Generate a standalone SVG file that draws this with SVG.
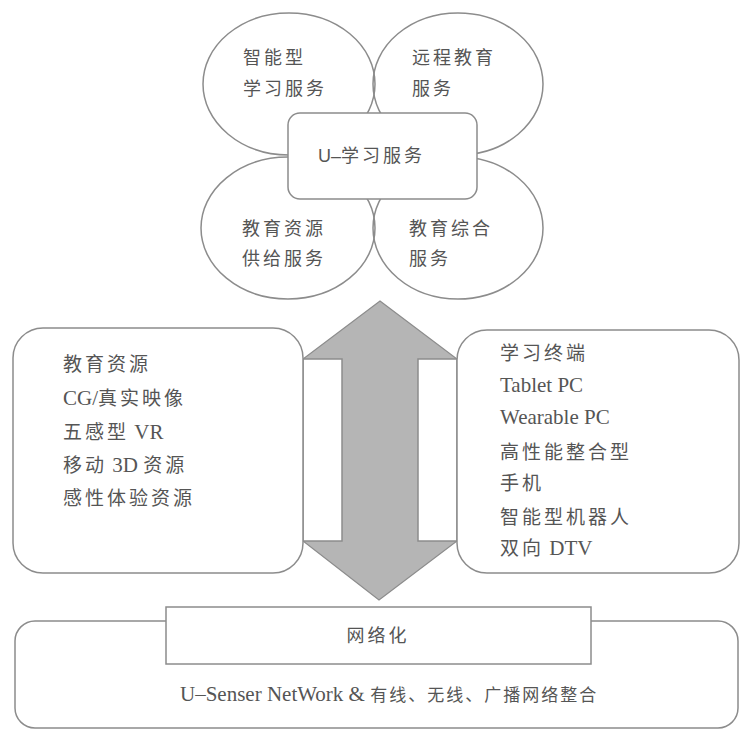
<svg xmlns="http://www.w3.org/2000/svg" width="741" height="731" viewBox="0 0 741 731">
<style>
.ln{fill:none;stroke:#8c8c8c;stroke-width:1.5}
.bx{fill:#fff;stroke:#8c8c8c;stroke-width:1.5}
text{fill:#555;font-family:"Liberation Serif","Noto Sans CJK SC",serif}
.c{font-family:"Noto Sans CJK SC",sans-serif;font-size:18px;letter-spacing:3px}
.c19{font-family:"Noto Sans CJK SC",sans-serif;font-size:19px;letter-spacing:3px}
.l{font-family:"Liberation Serif",serif;font-size:21px;letter-spacing:0}
</style>
<rect width="741" height="731" fill="#fff"/>
<g id="services">
<ellipse class="ln" cx="289" cy="84" rx="86" ry="71"/>
<ellipse class="ln" cx="458" cy="84" rx="85" ry="71"/>
<ellipse class="ln" cx="288" cy="228" rx="87" ry="71"/>
<ellipse class="ln" cx="458" cy="228" rx="85" ry="71"/>
<text class="c" x="243" y="64">智能型</text>
<text class="c" x="243" y="95">学习服务</text>
<text class="c" x="412" y="64">远程教育</text>
<text class="c" x="412" y="95">服务</text>
<text class="c" x="242" y="235">教育资源</text>
<text class="c" x="242" y="265">供给服务</text>
<text class="c" x="409" y="235">教育综合</text>
<text class="c" x="409" y="265">服务</text>
</g>
<g id="u-learning">
<rect class="bx" x="288" y="113" width="189" height="86" rx="12"/>
<text class="c" x="318" y="162"><tspan font-family="Liberation Sans, sans-serif" letter-spacing="0">U–</tspan>学习服务</text>
</g>
<g id="connectors">
<polygon points="380,301 457,359 457,541 379,600 303,541 303,359" fill="#b5b5b5" stroke="#8c8c8c" stroke-width="1.2"/>
<rect class="bx" x="303" y="359" width="39" height="182"/>
<rect class="bx" x="418" y="359" width="39" height="182"/>
</g>
<g id="resources">
<path class="bx" d="M43,328 H273 A30,30 0 0 1 303,358 V543 A30,30 0 0 1 273,573 H43 A30,30 0 0 1 13,543 V358 A30,30 0 0 1 43,328 Z"/>
<text x="63" y="371"><tspan class="c19">教育资源</tspan></text>
<text x="63" y="405"><tspan class="l">CG/</tspan><tspan class="c19">真实映像</tspan></text>
<text x="63" y="439"><tspan class="c19">五感型</tspan><tspan class="l"> VR</tspan></text>
<text x="63" y="472"><tspan class="c19">移动</tspan><tspan class="l"> 3D </tspan><tspan class="c19">资源</tspan></text>
<text x="63" y="505"><tspan class="c19">感性体验资源</tspan></text>
</g>
<g id="terminals">
<path class="bx" d="M487,330 H709 A30,30 0 0 1 739,360 V543 A30,30 0 0 1 709,573 H487 A30,30 0 0 1 457,543 V360 A30,30 0 0 1 487,330 Z"/>
<text x="500" y="360"><tspan class="c19">学习终端</tspan></text>
<text x="500" y="392"><tspan class="l">Tablet PC</tspan></text>
<text x="500" y="424"><tspan class="l">Wearable PC</tspan></text>
<text x="500" y="459"><tspan class="c19">高性能整合型</tspan></text>
<text x="500" y="490"><tspan class="c19">手机</tspan></text>
<text x="500" y="524"><tspan class="c19">智能型机器人</tspan></text>
<text x="500" y="555"><tspan class="c19">双向</tspan><tspan class="l" letter-spacing="1"> DTV</tspan></text>
</g>
<g id="network">
<path class="bx" d="M35,621 H718 A20,20 0 0 1 738,641 V708 A20,20 0 0 1 718,728 H35 A20,20 0 0 1 15,708 V641 A20,20 0 0 1 35,621 Z"/>
<rect class="bx" x="166" y="607" width="425" height="57"/>
<text class="c" x="378" y="642" text-anchor="middle">网络化</text>
<text x="180" y="701"><tspan class="l" font-size="21">U–Senser NetWork &amp; </tspan><tspan font-family="Noto Sans CJK SC, sans-serif" font-size="17" letter-spacing="2">有线、无线、广播网络整合</tspan></text>
</g>
</svg>
